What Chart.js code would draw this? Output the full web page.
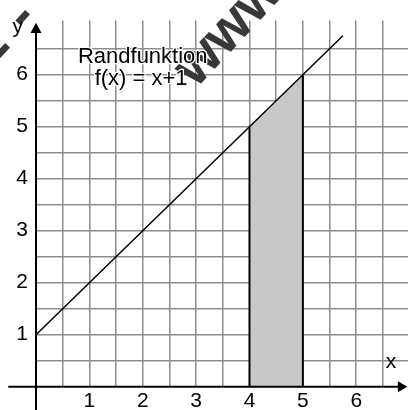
<!DOCTYPE html>
<html>
<head>
<meta charset="utf-8">
<script src="https://cdn.jsdelivr.net/npm/chart.js@4/dist/chart.umd.min.js"></script>
<style>
  html, body { margin: 0; padding: 0; background: #fff; overflow: hidden; }
  #c { display: block; }
</style>
</head>
<body>
<canvas id="c" width="408" height="410"></canvas>
<script>
// Grid lines every half unit, labels on whole units
const gridX = [0.5, 1, 1.5, 2, 2.5, 3, 3.5, 4, 4.5, 5, 5.5, 6, 6.5];
const gridY = [0.5, 1, 1.5, 2, 2.5, 3, 3.5, 4, 4.5, 5, 5.5, 6, 6.5];
const tickLabelsX = { 1: '1', 2: '2', 3: '3', 4: '4', 5: '5', 6: '6' };
const tickLabelsY = { 1: '1', 2: '2', 3: '3', 4: '4', 5: '5', 6: '6' };

// Boundary function f(x) = x + 1
const boundaryX = [0, 5.75];
const boundaryY = [1, 6.75];

// Shaded area under f between x = 4 and x = 5
const areaX = [4, 4, 5, 5];
const areaY = [0, 5, 6, 0];

const captionLines = ['Randfunktion', 'f(x) = x+1'];
const axisNames = { x: 'x', y: 'y' };
const stampText = 'www.';

const FONT = '"Liberation Sans", Arial, sans-serif';

const toPoints = (xs, ys) => xs.map((x, i) => ({ x, y: ys[i] }));

const decorations = {
  id: 'decorations',
  afterDraw(chart) {
    const ctx = chart.ctx;
    const sx = chart.scales.x, sy = chart.scales.y;
    const px = v => sx.getPixelForValue(v);
    const py = v => sy.getPixelForValue(v);

    ctx.save();
    ctx.setTransform(1, 0, 0, 1, 0, 0);
    // axes
    ctx.strokeStyle = '#000';
    ctx.fillStyle = '#000';
    ctx.lineWidth = 2;
    ctx.beginPath();
    ctx.moveTo(px(-0.52), py(0));
    ctx.lineTo(px(6.85), py(0));
    ctx.moveTo(px(0), py(-0.45));
    ctx.lineTo(px(0), py(6.85));
    ctx.stroke();
    // arrow heads
    ctx.beginPath();
    ctx.moveTo(px(6.96), py(0));
    ctx.lineTo(px(6.78), py(0) - 5.5);
    ctx.lineTo(px(6.78), py(0) + 5.5);
    ctx.closePath();
    ctx.fill();
    ctx.beginPath();
    ctx.moveTo(px(0), py(7.0));
    ctx.lineTo(px(0) - 5.5, py(6.8));
    ctx.lineTo(px(0) + 5.5, py(6.8));
    ctx.closePath();
    ctx.fill();

    // diagonal stamp lettering
    const ang = -47 * Math.PI / 180;
    ctx.fillStyle = '#383838';
    ctx.font = 'bold 56px ' + FONT;
    ctx.textBaseline = 'alphabetic';
    ctx.textAlign = 'left';
    ctx.save();
    ctx.translate(196, 89);
    ctx.rotate(ang);
    ctx.fillText(stampText, 0, 0);
    ctx.restore();
    ctx.textAlign = 'center';
    ctx.textBaseline = 'middle';
    [[22, 17], [2, 50]].forEach(([bx, by]) => {
      ctx.save();
      ctx.translate(bx, by);
      ctx.rotate(ang);
      ctx.fillText('-', 0, 0);
      ctx.restore();
    });

    // caption with a thin white halo
    ctx.font = '22px ' + FONT;
    ctx.textAlign = 'center';
    ctx.textBaseline = 'alphabetic';
    ctx.lineJoin = 'round';
    const captionPos = [[2.0, 6.23], [1.97, 5.8]];
    captionLines.forEach((t, i) => {
      const [cx, cy] = captionPos[i];
      ctx.strokeStyle = '#fff';
      ctx.lineWidth = 2.5;
      ctx.strokeText(t, px(cx), py(cy));
      ctx.fillStyle = '#000';
      ctx.fillText(t, px(cx), py(cy));
    });

    // axis names
    ctx.font = '21px ' + FONT;
    ctx.fillStyle = '#000';
    ctx.fillText(axisNames.x, px(6.65), py(0.35));
    ctx.fillText(axisNames.y, px(-0.34), py(6.8));
    ctx.restore();
  }
};

new Chart(document.getElementById('c'), {
  type: 'scatter',
  data: {
    datasets: [
      {
        data: toPoints(boundaryX, boundaryY),
        showLine: true,
        borderColor: '#000',
        borderWidth: 1.5,
        pointRadius: 0,
        fill: false,
        order: 0
      },
      {
        data: toPoints(areaX, areaY),
        showLine: true,
        borderColor: '#000',
        borderWidth: 2,
        backgroundColor: '#c8c8c8',
        pointRadius: 0,
        fill: 'origin',
        order: 1,
        segment: {
          borderColor: c => (c.p0DataIndex === 1 ? 'rgba(0,0,0,0)' : '#000')
        }
      }
    ]
  },
  plugins: [decorations],
  options: {
    responsive: false,
    animation: false,
    devicePixelRatio: 1,
    layout: { padding: { top: 10.7, left: 0, right: 0, bottom: 0 } },
    plugins: { legend: { display: false }, tooltip: { enabled: false } },
    scales: {
      x: {
        type: 'linear',
        min: 0,
        max: 6.97,
        afterBuildTicks: s => { s.ticks = gridX.map(v => ({ value: v })); },
        afterFit: s => { s.height = 23.3; },
        border: { display: false },
        grid: { color: '#8c8c8c', lineWidth: 1.5, drawTicks: false },
        ticks: {
          autoSkip: false,
          maxRotation: 0,
          padding: 2,
          color: '#000',
          font: { family: FONT, size: 21 },
          callback: v => tickLabelsX[v] || ''
        }
      },
      y: {
        type: 'linear',
        min: 0,
        max: 7.04,
        afterBuildTicks: s => { s.ticks = gridY.map(v => ({ value: v })); },
        afterFit: s => { s.width = 36; },
        border: { display: false },
        grid: { color: '#8c8c8c', lineWidth: 1.5, drawTicks: false },
        ticks: {
          autoSkip: false,
          padding: 8,
          color: '#000',
          font: { family: FONT, size: 21 },
          callback: v => tickLabelsY[v] || ''
        }
      }
    }
  }
});
</script>
</body>
</html>
